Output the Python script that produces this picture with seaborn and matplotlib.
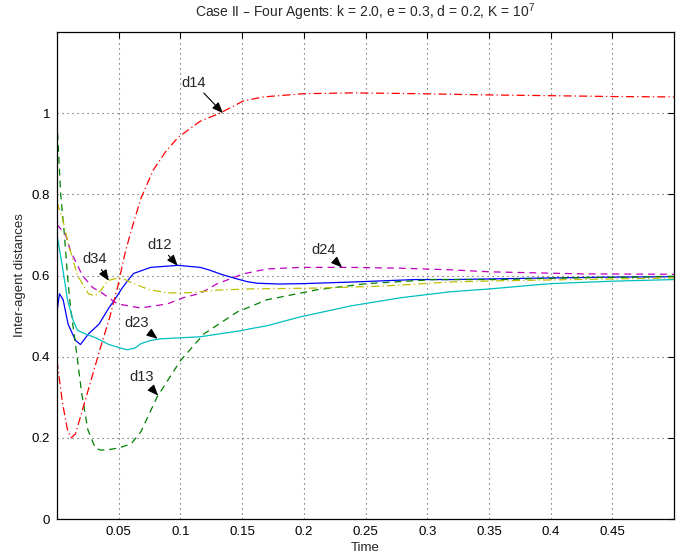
import matplotlib
matplotlib.use("Agg")
import matplotlib.pyplot as plt
import seaborn as sns
import pandas as pd

# ---------------- data ----------------
t12 = [0, 0.002, 0.005, 0.009, 0.015, 0.019, 0.0255, 0.034, 0.042, 0.046, 0.053, 0.058, 0.062,
       0.076, 0.098, 0.116, 0.124, 0.133, 0.143, 0.154, 0.162, 0.18, 0.2, 0.24, 0.29, 0.32, 0.4, 0.45, 0.5]
d12 = [0.51, 0.555, 0.54, 0.48, 0.44, 0.43, 0.456, 0.48, 0.52, 0.537, 0.57, 0.59, 0.605,
       0.62, 0.625, 0.62, 0.613, 0.603, 0.594, 0.585, 0.581, 0.579, 0.58, 0.584, 0.59, 0.59, 0.594, 0.596, 0.597]

t13 = [0, 0.003, 0.006, 0.0085, 0.011, 0.015, 0.020, 0.025, 0.031, 0.035, 0.04, 0.05, 0.06, 0.068,
       0.081, 0.1, 0.119, 0.146, 0.17, 0.211, 0.251, 0.305, 0.359, 0.41, 0.467, 0.5]
d13 = [0.98, 0.80, 0.70, 0.60, 0.52, 0.43, 0.31, 0.22, 0.175, 0.17, 0.17, 0.175, 0.185, 0.215,
       0.30, 0.39, 0.456, 0.51, 0.54, 0.565, 0.58, 0.59, 0.59, 0.594, 0.596, 0.598]

t14 = [0, 0.0045, 0.0085, 0.0115, 0.015, 0.0255, 0.035, 0.043, 0.049, 0.0555, 0.062, 0.068, 0.078,
       0.088, 0.098, 0.116, 0.132, 0.151, 0.167, 0.2, 0.24, 0.294, 0.349, 0.402, 0.45, 0.5]
d14 = [0.39, 0.285, 0.22, 0.20, 0.21, 0.32, 0.42, 0.50, 0.57, 0.66, 0.73, 0.79, 0.86,
       0.905, 0.94, 0.98, 1.0, 1.03, 1.04, 1.048, 1.05, 1.048, 1.045, 1.043, 1.041, 1.04]

t23 = [0, 0.0045, 0.0085, 0.013, 0.0166, 0.023, 0.031, 0.042, 0.053, 0.057, 0.063, 0.068, 0.0757,
       0.084, 0.116, 0.149, 0.157, 0.17, 0.197, 0.238, 0.278, 0.319, 0.351, 0.4, 0.45, 0.5]
d23 = [0.70, 0.62, 0.54, 0.49, 0.465, 0.456, 0.447, 0.43, 0.42, 0.417, 0.421, 0.432, 0.44,
       0.444, 0.449, 0.464, 0.469, 0.476, 0.498, 0.525, 0.545, 0.56, 0.567, 0.58, 0.586, 0.59]

t24 = [0, 0.007, 0.011, 0.0206, 0.029, 0.035, 0.049, 0.0676, 0.0895, 0.102, 0.116, 0.13, 0.151,
       0.17, 0.197, 0.238, 0.278, 0.319, 0.351, 0.426, 0.5]
d24 = [0.726, 0.70, 0.66, 0.60, 0.57, 0.56, 0.53, 0.52, 0.53, 0.545, 0.556, 0.58, 0.604,
       0.616, 0.62, 0.62, 0.618, 0.614, 0.609, 0.604, 0.603]

t34 = [0, 0.0045, 0.009, 0.0166, 0.0255, 0.031, 0.036, 0.041, 0.049, 0.055, 0.062, 0.075, 0.09,
       0.11, 0.13, 0.157, 0.211, 0.265, 0.319, 0.359, 0.42, 0.5]
d34 = [0.78, 0.74, 0.68, 0.60, 0.555, 0.55, 0.565, 0.587, 0.594, 0.59, 0.58, 0.565, 0.557,
       0.558, 0.564, 0.567, 0.569, 0.574, 0.584, 0.587, 0.59, 0.594]

series_names = ["d12", "d13", "d14", "d23", "d24", "d34"]
series_t = [t12, t13, t14, t23, t24, t34]
series_y = [d12, d13, d14, d23, d24, d34]

xticks = [0.05, 0.1, 0.15, 0.2, 0.25, 0.3, 0.35, 0.4, 0.45]
xticklabels = ["0.05", "0.1", "0.15", "0.2", "0.25", "0.3", "0.35", "0.4", "0.45"]
yticks = [0, 0.2, 0.4, 0.6, 0.8, 1.0]
yticklabels = ["0", "0.2", "0.4", "0.6", "0.8", "1"]

# annotation: name -> (text position, arrow tip)
labels_txt = {"d14": (0.111, 1.075), "d12": (0.0830, 0.675), "d34": (0.0305, 0.640),
              "d23": (0.0645, 0.484), "d13": (0.0685, 0.349), "d24": (0.2160, 0.663)}
labels_tip = {"d14": (0.1345, 1.000), "d12": (0.0978, 0.624), "d34": (0.0420, 0.587),
              "d23": (0.0815, 0.444), "d13": (0.0820, 0.304), "d24": (0.2310, 0.620)}

# ---------------- style ----------------
sns.set_style("white")
plt.rcParams["font.family"] = ["Liberation Sans", "DejaVu Sans"]
plt.rcParams["mathtext.default"] = "regular"

colors = {"d12": (0, 0, 1), "d13": (0, 0.5, 0), "d14": (1, 0, 0),
          "d23": (0, 0.75, 0.75), "d24": (0.75, 0, 0.75), "d34": (0.75, 0.75, 0)}
dash = (0, (5.5, 4))
dashdot = (0, (6.5, 2.5, 1, 2.5))
styles = {"d12": "-", "d13": dash, "d14": dashdot, "d23": "-", "d24": dash, "d34": dashdot}

fig = plt.figure(figsize=(6.82, 5.54), dpi=100)
ax = fig.add_axes([57 / 682, 35 / 554, 617 / 682, 487 / 554])

for name, tt, yy in zip(series_names, series_t, series_y):
    df = pd.DataFrame({"t": tt, "y": yy})
    sns.lineplot(data=df, x="t", y="y", ax=ax, color=colors[name], linestyle=styles[name],
                 linewidth=0.9, estimator=None, sort=False)

ax.set_xlim(0, 0.5)
ax.set_ylim(0, 1.2)
ax.set_xticks(xticks)
ax.set_xticklabels(xticklabels)
ax.set_yticks(yticks)
ax.set_yticklabels(yticklabels)
ax.tick_params(direction="in", top=True, right=True, length=4, width=0.8,
               labelsize=9.5, colors="k", pad=5)
ax.grid(True, linestyle=(0, (1, 3.5)), color="0.3", linewidth=0.8)
for sp in ax.spines.values():
    sp.set_visible(True)
    sp.set_color("k")
    sp.set_linewidth(0.9)

ax.set_xlabel("Time", fontsize=9.5, labelpad=3)
ax.set_ylabel("Inter-agent distances", fontsize=9.5, labelpad=4)
ax.set_title("Case II \u2013 Four Agents: k = 2.0, e = 0.3, d = 0.2, K = 10$^{7}$",
             fontsize=10.0, pad=10.5)

for name in series_names:
    ax.annotate(name, xy=labels_tip[name], xytext=labels_txt[name],
                ha="center", va="center", fontsize=10.5,
                arrowprops=dict(arrowstyle="-|>,head_length=0.55,head_width=0.22",
                                color="k", lw=0.8, mutation_scale=12,
                                shrinkA=0, shrinkB=0))

fig.savefig("out.png", dpi=100)
